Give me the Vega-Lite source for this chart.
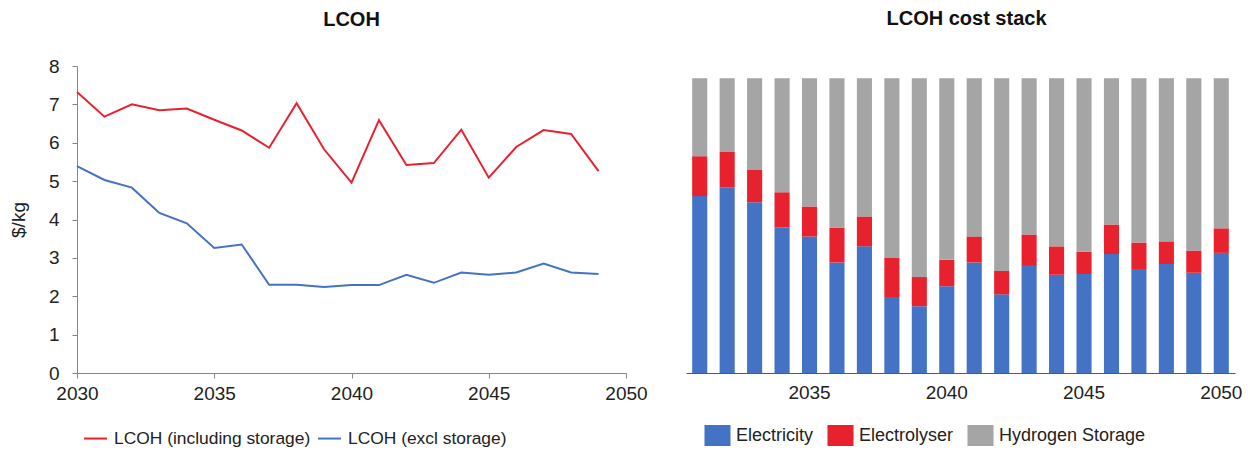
{
  "$schema": "https://vega.github.io/schema/vega-lite/v6.json",
  "padding": {"left": 9, "top": 9, "right": 0, "bottom": 0},
  "background": "white",
  "spacing": 60,
  "bounds": "flush",
  "resolve": {"scale": {"color": "independent"}, "legend": {"color": "independent"}},
  "config": {
    "font": "Liberation Sans",
    "view": {"stroke": null},
    "axis": {"labelFont": "Liberation Sans", "labelFontSize": 19, "labelColor": "#222222", "domainColor": "#868686", "tickColor": "#868686", "grid": false, "titleFont": "Liberation Sans", "titleFontWeight": "normal", "titleColor": "#222222"},
    "legend": {"labelFont": "Liberation Sans", "labelFontSize": 18, "labelColor": "#222222", "padding": 0, "title": null, "labelLimit": 400},
    "title": {"font": "Liberation Sans", "fontSize": 20, "fontWeight": "bold", "color": "#111111", "baseline": "alphabetic", "anchor": "middle"}
  },
  "datasets": {
    "lines": [
      {"year": 2030, "series": "LCOH (including storage)", "value": 7.32},
      {"year": 2031, "series": "LCOH (including storage)", "value": 6.68},
      {"year": 2032, "series": "LCOH (including storage)", "value": 7.0},
      {"year": 2033, "series": "LCOH (including storage)", "value": 6.85},
      {"year": 2034, "series": "LCOH (including storage)", "value": 6.89},
      {"year": 2035, "series": "LCOH (including storage)", "value": 6.6},
      {"year": 2036, "series": "LCOH (including storage)", "value": 6.32},
      {"year": 2037, "series": "LCOH (including storage)", "value": 5.87},
      {"year": 2038, "series": "LCOH (including storage)", "value": 7.03},
      {"year": 2039, "series": "LCOH (including storage)", "value": 5.83},
      {"year": 2040, "series": "LCOH (including storage)", "value": 4.96},
      {"year": 2041, "series": "LCOH (including storage)", "value": 6.59},
      {"year": 2042, "series": "LCOH (including storage)", "value": 5.42},
      {"year": 2043, "series": "LCOH (including storage)", "value": 5.47},
      {"year": 2044, "series": "LCOH (including storage)", "value": 6.34},
      {"year": 2045, "series": "LCOH (including storage)", "value": 5.09},
      {"year": 2046, "series": "LCOH (including storage)", "value": 5.89},
      {"year": 2047, "series": "LCOH (including storage)", "value": 6.33},
      {"year": 2048, "series": "LCOH (including storage)", "value": 6.23},
      {"year": 2049, "series": "LCOH (including storage)", "value": 5.26},
      {"year": 2030, "series": "LCOH (excl storage)", "value": 5.39},
      {"year": 2031, "series": "LCOH (excl storage)", "value": 5.03},
      {"year": 2032, "series": "LCOH (excl storage)", "value": 4.83},
      {"year": 2033, "series": "LCOH (excl storage)", "value": 4.17},
      {"year": 2034, "series": "LCOH (excl storage)", "value": 3.9},
      {"year": 2035, "series": "LCOH (excl storage)", "value": 3.26},
      {"year": 2036, "series": "LCOH (excl storage)", "value": 3.35},
      {"year": 2037, "series": "LCOH (excl storage)", "value": 2.3},
      {"year": 2038, "series": "LCOH (excl storage)", "value": 2.3},
      {"year": 2039, "series": "LCOH (excl storage)", "value": 2.24},
      {"year": 2040, "series": "LCOH (excl storage)", "value": 2.29},
      {"year": 2041, "series": "LCOH (excl storage)", "value": 2.29},
      {"year": 2042, "series": "LCOH (excl storage)", "value": 2.56},
      {"year": 2043, "series": "LCOH (excl storage)", "value": 2.35},
      {"year": 2044, "series": "LCOH (excl storage)", "value": 2.62},
      {"year": 2045, "series": "LCOH (excl storage)", "value": 2.56},
      {"year": 2046, "series": "LCOH (excl storage)", "value": 2.62},
      {"year": 2047, "series": "LCOH (excl storage)", "value": 2.85},
      {"year": 2048, "series": "LCOH (excl storage)", "value": 2.62},
      {"year": 2049, "series": "LCOH (excl storage)", "value": 2.58}
    ],
    "bars": [
      {"year": 2031, "component": "Electricity", "value": 4.61},
      {"year": 2031, "component": "Electrolyser", "value": 1.04},
      {"year": 2031, "component": "Hydrogen Storage", "value": 2.03},
      {"year": 2032, "component": "Electricity", "value": 4.84},
      {"year": 2032, "component": "Electrolyser", "value": 0.92},
      {"year": 2032, "component": "Hydrogen Storage", "value": 1.92},
      {"year": 2033, "component": "Electricity", "value": 4.45},
      {"year": 2033, "component": "Electrolyser", "value": 0.84},
      {"year": 2033, "component": "Hydrogen Storage", "value": 2.39},
      {"year": 2034, "component": "Electricity", "value": 3.79},
      {"year": 2034, "component": "Electrolyser", "value": 0.92},
      {"year": 2034, "component": "Hydrogen Storage", "value": 2.97},
      {"year": 2035, "component": "Electricity", "value": 3.56},
      {"year": 2035, "component": "Electrolyser", "value": 0.78},
      {"year": 2035, "component": "Hydrogen Storage", "value": 3.34},
      {"year": 2036, "component": "Electricity", "value": 2.88},
      {"year": 2036, "component": "Electrolyser", "value": 0.91},
      {"year": 2036, "component": "Hydrogen Storage", "value": 3.89},
      {"year": 2037, "component": "Electricity", "value": 3.3},
      {"year": 2037, "component": "Electrolyser", "value": 0.78},
      {"year": 2037, "component": "Hydrogen Storage", "value": 3.6},
      {"year": 2038, "component": "Electricity", "value": 1.98},
      {"year": 2038, "component": "Electrolyser", "value": 1.02},
      {"year": 2038, "component": "Hydrogen Storage", "value": 4.68},
      {"year": 2039, "component": "Electricity", "value": 1.74},
      {"year": 2039, "component": "Electrolyser", "value": 0.76},
      {"year": 2039, "component": "Hydrogen Storage", "value": 5.18},
      {"year": 2040, "component": "Electricity", "value": 2.26},
      {"year": 2040, "component": "Electrolyser", "value": 0.69},
      {"year": 2040, "component": "Hydrogen Storage", "value": 4.73},
      {"year": 2041, "component": "Electricity", "value": 2.88},
      {"year": 2041, "component": "Electrolyser", "value": 0.68},
      {"year": 2041, "component": "Hydrogen Storage", "value": 4.12},
      {"year": 2042, "component": "Electricity", "value": 2.05},
      {"year": 2042, "component": "Electrolyser", "value": 0.61},
      {"year": 2042, "component": "Hydrogen Storage", "value": 5.02},
      {"year": 2043, "component": "Electricity", "value": 2.79},
      {"year": 2043, "component": "Electrolyser", "value": 0.82},
      {"year": 2043, "component": "Hydrogen Storage", "value": 4.07},
      {"year": 2044, "component": "Electricity", "value": 2.56},
      {"year": 2044, "component": "Electrolyser", "value": 0.74},
      {"year": 2044, "component": "Hydrogen Storage", "value": 4.38},
      {"year": 2045, "component": "Electricity", "value": 2.58},
      {"year": 2045, "component": "Electrolyser", "value": 0.58},
      {"year": 2045, "component": "Hydrogen Storage", "value": 4.52},
      {"year": 2046, "component": "Electricity", "value": 3.1},
      {"year": 2046, "component": "Electrolyser", "value": 0.77},
      {"year": 2046, "component": "Hydrogen Storage", "value": 3.81},
      {"year": 2047, "component": "Electricity", "value": 2.71},
      {"year": 2047, "component": "Electrolyser", "value": 0.69},
      {"year": 2047, "component": "Hydrogen Storage", "value": 4.28},
      {"year": 2048, "component": "Electricity", "value": 2.84},
      {"year": 2048, "component": "Electrolyser", "value": 0.59},
      {"year": 2048, "component": "Hydrogen Storage", "value": 4.25},
      {"year": 2049, "component": "Electricity", "value": 2.61},
      {"year": 2049, "component": "Electrolyser", "value": 0.58},
      {"year": 2049, "component": "Hydrogen Storage", "value": 4.49},
      {"year": 2050, "component": "Electricity", "value": 3.13},
      {"year": 2050, "component": "Electrolyser", "value": 0.64},
      {"year": 2050, "component": "Hydrogen Storage", "value": 3.91}
    ]
  },
  "hconcat": [
    {
      "title": {"text": "LCOH", "offset": 27},
      "width": 549,
      "height": 307,
      "data": {"name": "lines"},
      "mark": {"type": "line", "strokeWidth": 2},
      "encoding": {
        "x": {"field": "year", "type": "quantitative", "scale": {"domain": [2030, 2050], "nice": false, "zero": false},
              "axis": {"title": null, "values": [2030, 2035, 2040, 2045, 2050], "format": "d", "labelFlush": false, "tickSize": 5, "labelPadding": 6}},
        "y": {"field": "value", "type": "quantitative", "scale": {"domain": [0, 8], "nice": false},
              "axis": {"title": "$/kg", "titleFontSize": 19, "values": [0, 1, 2, 3, 4, 5, 6, 7, 8], "tickSize": 5, "labelPadding": 13, "titlePadding": 20}},
        "color": {"field": "series", "type": "nominal",
                  "scale": {"domain": ["LCOH (including storage)", "LCOH (excl storage)"], "range": ["#E8212E", "#4472C4"]},
                  "legend": {"orient": "none", "direction": "horizontal", "legendX": 6, "legendY": 360, "labelFontSize": 17.4, "symbolType": "stroke", "symbolSize": 529, "symbolStrokeWidth": 2, "labelOffset": 6, "columnPadding": 3}}
      }
    },
    {
      "title": {"text": "LCOH cost stack", "dx": 6, "offset": 37},
      "width": 549,
      "height": 307,
      "data": {"name": "bars"},
      "mark": {"type": "bar"},
      "encoding": {
        "x": {"field": "year", "type": "ordinal",
              "scale": {"paddingInner": 0.45, "paddingOuter": 0.225},
              "axis": {"title": null, "labelAngle": 0, "ticks": false, "domainColor": "#595959", "labelPadding": 10, "labelExpr": "datum.value % 5 == 0 ? datum.label : ''"}},
        "y": {"field": "value", "type": "quantitative", "stack": "zero", "scale": {"domain": [0, 8], "nice": false}, "axis": null},
        "order": {"field": "component", "type": "nominal", "sort": "ascending"},
        "color": {"field": "component", "type": "nominal",
                  "scale": {"domain": ["Electricity", "Electrolyser", "Hydrogen Storage"], "range": ["#4472C4", "#E8212E", "#A5A5A5"]},
                  "legend": {"orient": "none", "direction": "horizontal", "legendX": 21, "legendY": 359, "symbolType": "M-1.24,-1H1.24V1H-1.24Z", "symbolSize": 441, "symbolStrokeWidth": 0, "labelOffset": 8, "columnPadding": 13}}
      }
    }
  ]
}
